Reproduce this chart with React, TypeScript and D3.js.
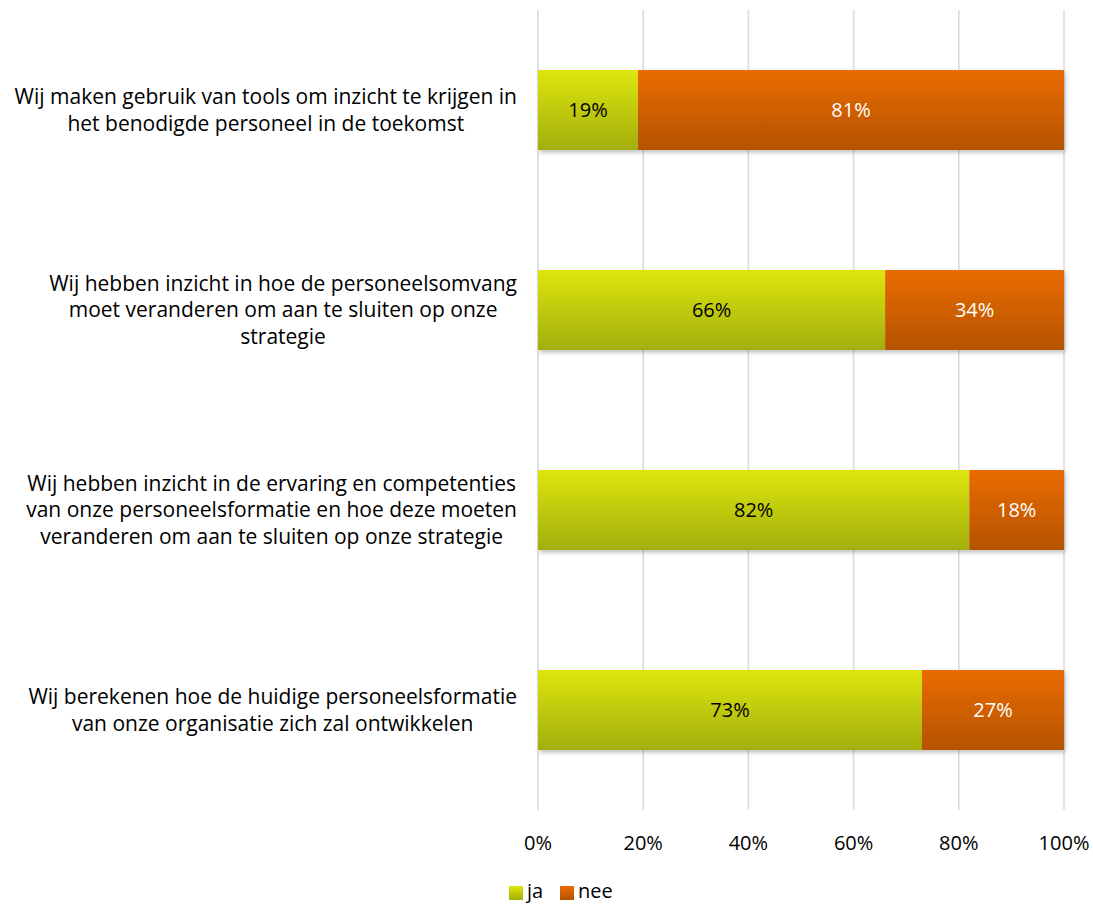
import { useRef, useEffect } from 'react';
import * as d3 from 'd3';

const categories = [
  'Wij maken gebruik van tools om inzicht te krijgen in|het benodigde personeel in de toekomst',
  'Wij hebben inzicht in hoe de personeelsomvang|moet veranderen om aan te sluiten op onze|strategie',
  'Wij hebben inzicht in de ervaring en competenties|van onze personeelsformatie en hoe deze moeten|veranderen om aan te sluiten op onze strategie',
  'Wij berekenen hoe de huidige personeelsformatie|van onze organisatie zich zal ontwikkelen',
];
const jaValues = [19, 66, 82, 73];
const neeValues = [81, 34, 18, 27];
const tickValues = [0, 20, 40, 60, 80, 100];
const seriesNames = ['ja', 'nee'];

const width = 1093;
const height = 905;

export default function App() {
  const svgRef = useRef<SVGSVGElement>(null);

  useEffect(() => {
    if (!svgRef.current) return;
    document.body.style.margin = '0';
    const svg = d3.select(svgRef.current);
    svg.selectAll('*').remove();

    const font = '"Open Sans", Lato, sans-serif';
    const fs = 20;
    const labelFs = 21;
    const margin = { top: 10, right: 29, bottom: 95, left: 538 };
    const innerW = width - margin.left - margin.right;
    const innerH = height - margin.top - margin.bottom;

    const defs = svg.append('defs');
    const grads = [
      { id: 'gJa', top: '#dce60a', bottom: '#a3ae08' },
      { id: 'gNee', top: '#ea6c00', bottom: '#b55200' },
    ];
    grads.forEach((gd) => {
      const lg = defs
        .append('linearGradient')
        .attr('id', gd.id)
        .attr('x1', 0)
        .attr('y1', 0)
        .attr('x2', 0)
        .attr('y2', 1);
      lg.append('stop').attr('offset', '0%').attr('stop-color', gd.top);
      lg.append('stop').attr('offset', '100%').attr('stop-color', gd.bottom);
    });
    const filter = defs.append('filter').attr('id', 'shadow').attr('x', '-5%').attr('y', '-5%').attr('width', '115%').attr('height', '130%');
    filter
      .append('feDropShadow')
      .attr('dx', 1.5)
      .attr('dy', 2.5)
      .attr('stdDeviation', 2)
      .attr('flood-color', '#000')
      .attr('flood-opacity', 0.25);

    const g = svg.append('g').attr('transform', `translate(${margin.left},${margin.top})`);

    const x = d3.scaleLinear().domain([0, 100]).range([0, innerW]);
    const y = d3
      .scaleBand<number>()
      .domain(d3.range(categories.length))
      .range([0, innerH])
      .paddingInner(0.6)
      .paddingOuter(0.3);

    // gridlines
    g.selectAll('.grid')
      .data(tickValues)
      .join('line')
      .attr('x1', (d) => x(d))
      .attr('x2', (d) => x(d))
      .attr('y1', 0)
      .attr('y2', innerH)
      .attr('stroke', '#d9d9d9')
      .attr('stroke-width', 1.5);

    // tick labels
    g.selectAll('.tick-label')
      .data(tickValues)
      .join('text')
      .attr('x', (d) => x(d))
      .attr('y', innerH + 33)
      .attr('dy', '0.35em')
      .attr('text-anchor', 'middle')
      .attr('font-family', font)
      .attr('font-size', fs)
      .attr('fill', '#000')
      .text((d) => `${d}%`);

    const rows = categories.map((c, i) => ({ c, i, ja: jaValues[i], nee: neeValues[i] }));

    const bars = g.append('g').attr('filter', 'url(#shadow)');
    bars
      .selectAll('.ja')
      .data(rows)
      .join('rect')
      .attr('x', x(0))
      .attr('y', (d) => y(d.i)!)
      .attr('width', (d) => x(d.ja) - x(0))
      .attr('height', y.bandwidth())
      .attr('fill', 'url(#gJa)');
    bars
      .selectAll('.nee')
      .data(rows)
      .join('rect')
      .attr('x', (d) => x(d.ja))
      .attr('y', (d) => y(d.i)!)
      .attr('width', (d) => x(d.ja + d.nee) - x(d.ja))
      .attr('height', y.bandwidth())
      .attr('fill', 'url(#gNee)');

    // value labels
    g.selectAll('.v-ja')
      .data(rows)
      .join('text')
      .attr('x', (d) => x(d.ja / 2))
      .attr('y', (d) => y(d.i)! + y.bandwidth() / 2)
      .attr('dy', '0.35em')
      .attr('text-anchor', 'middle')
      .attr('font-family', font)
      .attr('font-size', fs)
      .attr('fill', '#000')
      .text((d) => `${d.ja}%`);
    g.selectAll('.v-nee')
      .data(rows)
      .join('text')
      .attr('x', (d) => x(d.ja + d.nee / 2))
      .attr('y', (d) => y(d.i)! + y.bandwidth() / 2)
      .attr('dy', '0.35em')
      .attr('text-anchor', 'middle')
      .attr('font-family', font)
      .attr('font-size', fs)
      .attr('fill', '#fff')
      .text((d) => `${d.nee}%`);

    // category labels: centered lines, block right-aligned
    const lineH = 26.5;
    rows.forEach((r) => {
      const lines = r.c.split('|');
      const cy = margin.top + y(r.i)! + y.bandwidth() / 2;
      const tg = svg.append('g');
      const texts = tg
        .selectAll('text')
        .data(lines)
        .join('text')
        .attr('y', (_, k) => cy + (k - (lines.length - 1) / 2) * lineH)
        .attr('dy', '0.35em')
        .attr('text-anchor', 'middle')
        .attr('font-family', font)
        .attr('font-size', labelFs)
        .attr('fill', '#000')
        .text((d) => d);
      let maxW = 0;
      texts.each(function () {
        maxW = Math.max(maxW, (this as SVGTextElement).getComputedTextLength());
      });
      texts.attr('x', 517 - maxW / 2);
    });

    // legend
    const legend = svg.append('g').attr('transform', `translate(509, 891)`);
    const lx = [0, 51];
    seriesNames.forEach((name, k) => {
      const item = legend.append('g').attr('transform', `translate(${lx[k]},0)`);
      item
        .append('rect')
        .attr('x', 0)
        .attr('y', -5)
        .attr('width', 14)
        .attr('height', 14)
        .attr('fill', k === 0 ? 'url(#gJa)' : 'url(#gNee)');
      item
        .append('text')
        .attr('x', 18)
        .attr('y', 0)
        .attr('dy', '0.35em')
        .attr('font-family', font)
        .attr('font-size', fs)
        .attr('fill', '#000')
        .text(name);
    });
  }, []);

  return <svg ref={svgRef} width={width} height={height} style={{ display: 'block' }} />;
}
